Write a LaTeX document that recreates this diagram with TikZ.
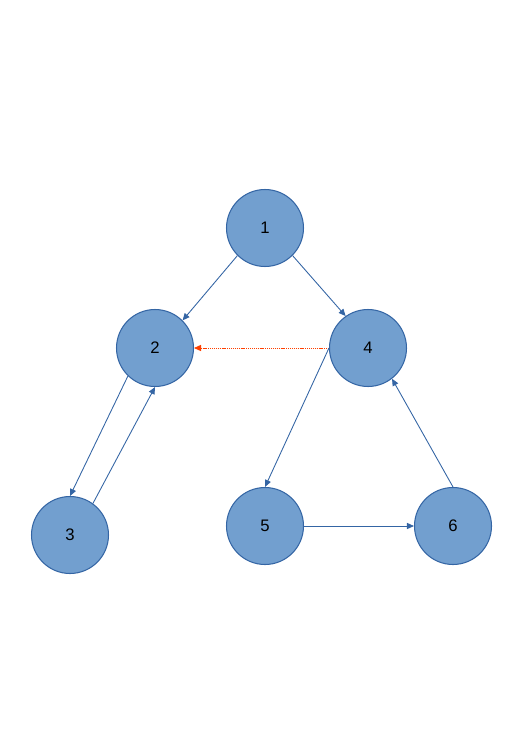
\documentclass[tikz,border=0pt]{standalone}
\usepackage{fontspec}
\setmainfont{Liberation Sans}
\usetikzlibrary{arrows.meta}
\definecolor{nodefill}{HTML}{729FCF}
\definecolor{nodeline}{HTML}{3465A4}
\definecolor{hintred}{HTML}{FF4000}

\begin{document}
\begin{tikzpicture}[
    x=0.02cm, y=-0.02cm,
    vertex/.style={circle, draw=nodeline, fill=nodefill, line width=0.6pt, minimum size=1.54cm, inner sep=0pt, font=\fontsize{9.5}{11}\selectfont},
    arrow/.style={-{Triangle[length=4pt, width=3.5pt]}, line width=0.5pt, draw=nodeline},
    hint/.style={-{Triangle[length=4pt, width=3.5pt]}, line width=0.5pt, draw=hintred, dash pattern=on 0.7pt off 0.5pt}
]
\useasboundingbox (0,0) rectangle (528,747);

% Nodes
\node[vertex] (n1) at (265,228) {1};
\node[vertex] (n2) at (155,348) {2};
\node[vertex] (n3) at (70,535) {3};
\node[vertex] (n4) at (368,348) {4};
\node[vertex] (n5) at (265,526) {5};
\node[vertex] (n6) at (453,526) {6};

% Edges
\draw[arrow] (n1.south west) -- (n2.north east);
\draw[arrow] (n1.south east) -- (n4.125);
\draw[hint] (n4.west) -- (n2.east);
\draw[arrow] (n2.226) -- (n3.north);
\draw[arrow] (n3.54) -- (n2.south);
\draw[arrow] (n4.west) -- (n5.north);
\draw[arrow] (n5.east) -- (n6.west);
\draw[arrow] (n6.north) -- (n4.-52);

\end{tikzpicture}
\end{document}
